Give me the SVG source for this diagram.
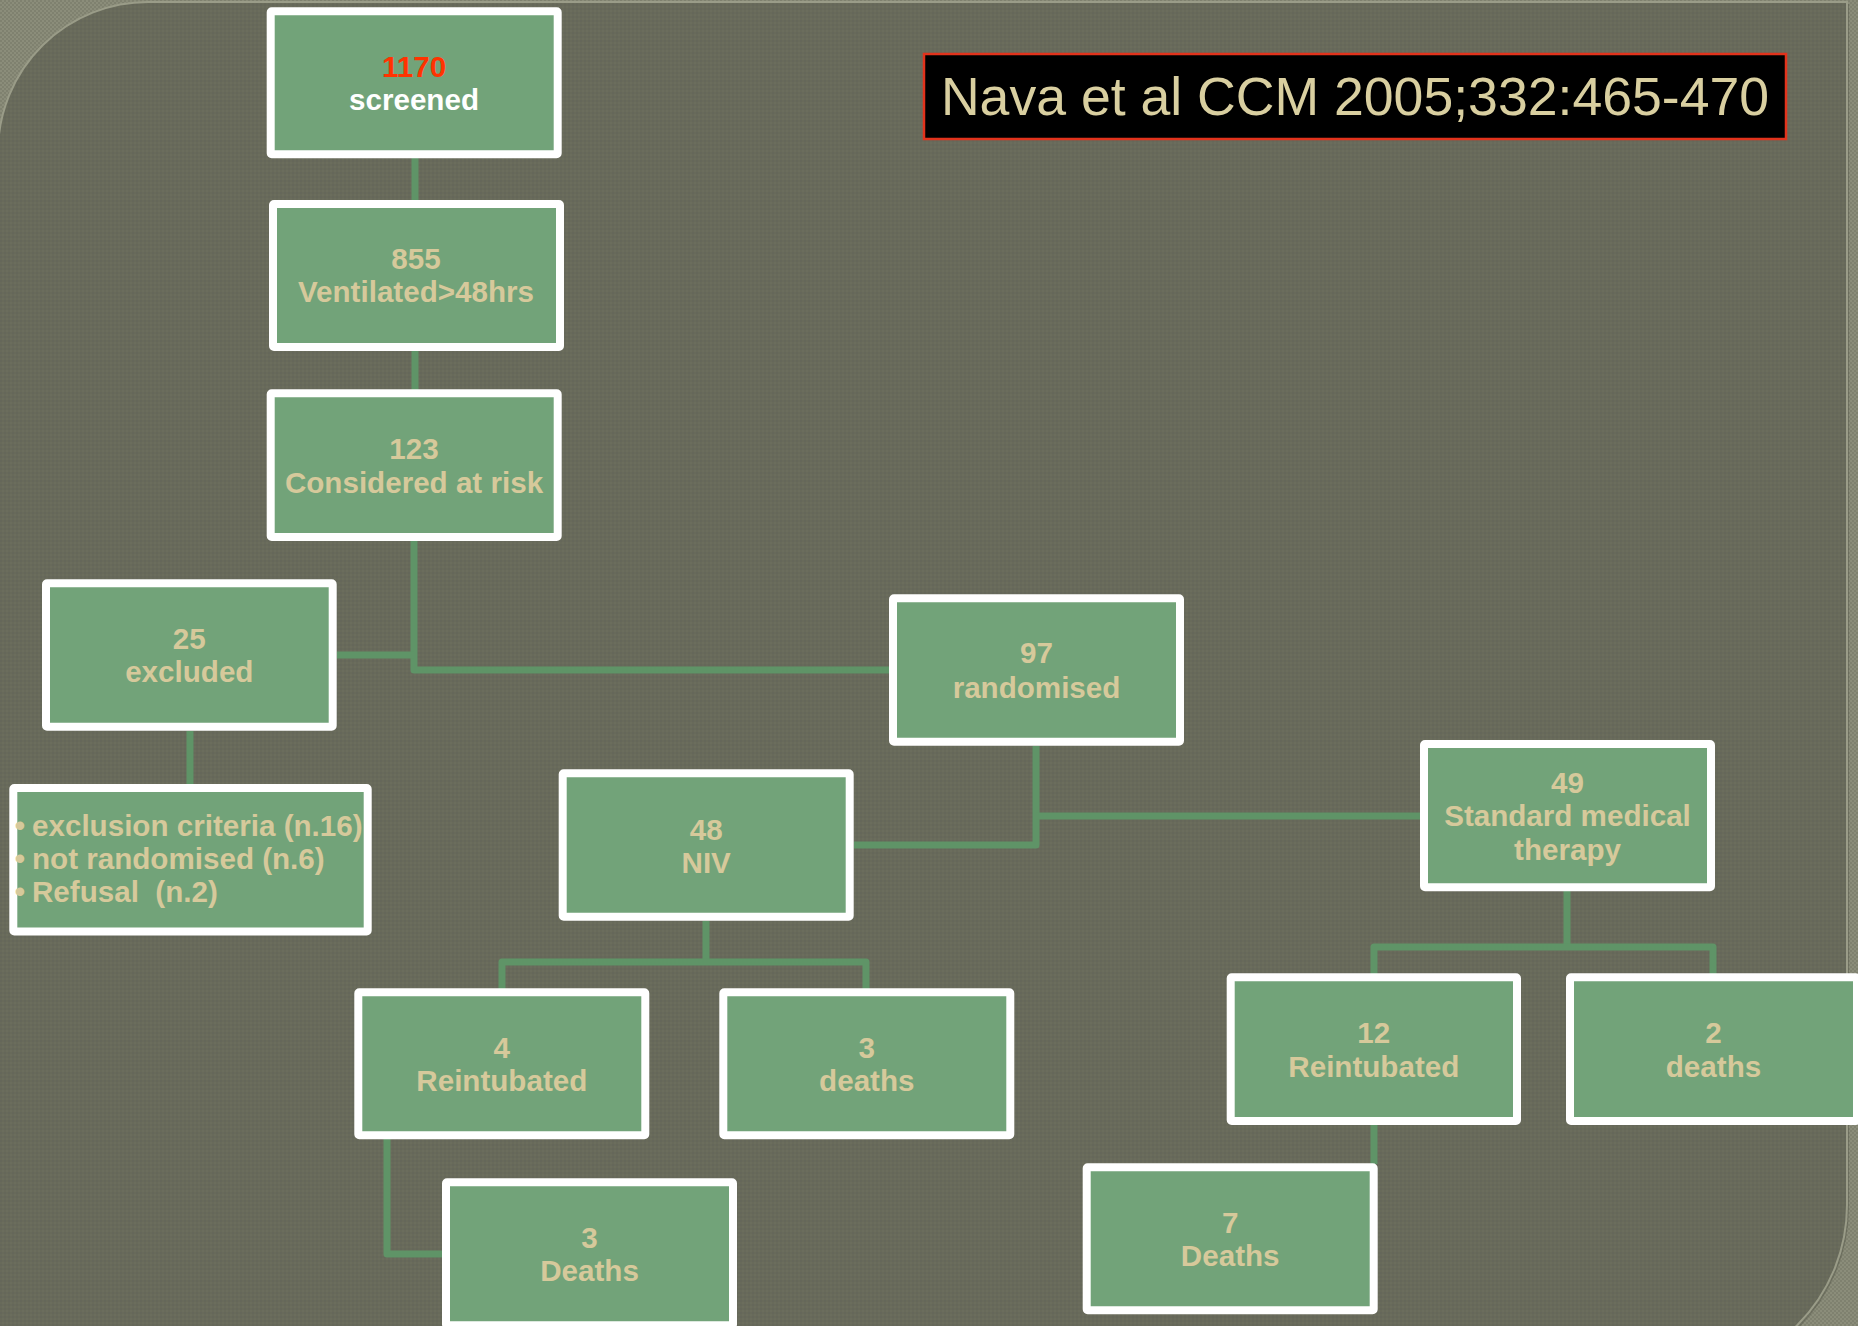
<svg xmlns="http://www.w3.org/2000/svg" width="1858" height="1326" viewBox="0 0 1858 1326">
<style>
  .box rect { fill: #72a379; stroke: #ffffff; stroke-width: 8; stroke-linejoin: round; }
  .box text { font-family: "Liberation Sans", Arial, sans-serif; font-weight: bold; font-size: 29.6px; fill: #d6c99b; text-anchor: middle; }
  .box text.left { text-anchor: start; }
  .box text.bul { text-anchor: middle; }
  #connectors path { fill: none; stroke: #5f9467; stroke-width: 7; stroke-linejoin: round; stroke-linecap: butt; }
</style>
<defs>
  <pattern id="frameTex" width="4" height="4" patternUnits="userSpaceOnUse">
    <rect width="4" height="4" fill="#8b8d7a"/>
    <rect width="2" height="2" fill="#7f816f"/>
    <rect x="2" y="2" width="2" height="2" fill="#7f816f"/>
  </pattern>
  <pattern id="panelTex" width="4" height="4" patternUnits="userSpaceOnUse">
    <rect width="4" height="4" fill="#686a5a"/>
    <rect width="2" height="2" fill="#65675a"/>
    <rect x="2" y="2" width="2" height="2" fill="#6b6d5d"/>
  </pattern>
</defs>

<!-- background -->
<rect x="0" y="0" width="1858" height="1326" fill="url(#frameTex)"/>
<path d="M -2 150 A 150 150 0 0 1 148 2 H 1847 V 1205 A 170 170 0 0 1 1677 1375 H -2 Z" fill="#55574a" transform="translate(2,2)" opacity="0.5"/>
<path d="M -2 150 A 150 150 0 0 1 148 2 H 1847 V 1205 A 170 170 0 0 1 1677 1375 H -2 Z" fill="url(#panelTex)" stroke="#9a9c88" stroke-width="2"/>

<!-- title -->
<g id="title">
  <rect x="924" y="54" width="862" height="85" fill="#000000" stroke="#e2331c" stroke-width="2.5"/>
  <text x="1355" y="115" font-family="'Liberation Sans', Arial, sans-serif" font-size="53.6" fill="#d9cfa0" text-anchor="middle">Nava et al CCM 2005;332:465-470</text>
</g>

<!-- connectors -->
<g id="connectors">
  <path d="M415 158 V201"/>
  <path d="M415 351 V390"/>
  <path d="M414 541 V670 H890"/>
  <path d="M337 655 H414"/>
  <path d="M190 731 V785"/>
  <path d="M1036 746 V845 H854"/>
  <path d="M1036 816 H1421"/>
  <path d="M706 921 V962"/>
  <path d="M502 989 V962 H866 V989"/>
  <path d="M387 1139 V1254 H443"/>
  <path d="M1567 891 V947"/>
  <path d="M1374 974 V947 H1713 V974"/>
  <path d="M1374 1125 V1164"/>
</g>

<!-- nodes -->
<g id="n-screened" class="box">
  <rect x="270.7" y="11.3" width="287" height="143" rx="1"/>
  <text x="414" y="77" style="fill:#ff3300">1170</text>
  <text x="414" y="109.5" style="fill:#ffffff">screened</text>
</g>
<g id="n-ventilated" class="box">
  <rect x="273" y="204" width="287" height="143" rx="1"/>
  <text x="416" y="268.5">855</text>
  <text x="416" y="302">Ventilated&gt;48hrs</text>
</g>
<g id="n-atrisk" class="box">
  <rect x="270.7" y="393.3" width="287" height="143.7" rx="1"/>
  <text x="414" y="459">123</text>
  <text x="414" y="493">Considered at risk</text>
</g>
<g id="n-excluded" class="box">
  <rect x="46" y="583.3" width="286.7" height="143.4" rx="1"/>
  <text x="189.3" y="648.5">25</text>
  <text x="189.3" y="682">excluded</text>
</g>
<g id="n-reasons" class="box">
  <rect x="13.3" y="788" width="354.4" height="143.5" rx="1"/>
  <text class="bul" x="20" y="835.5">•</text>
  <text class="left" x="32" y="835.5">exclusion criteria (n.16)</text>
  <text class="bul" x="20" y="868.5">•</text>
  <text class="left" x="32" y="868.5">not randomised (n.6)</text>
  <text class="bul" x="20" y="902">•</text>
  <text class="left" x="32" y="902" style="white-space:pre">Refusal  (n.2)</text>
</g>
<g id="n-randomised" class="box">
  <rect x="893" y="598.3" width="287" height="143.4" rx="1"/>
  <text x="1036.5" y="663">97</text>
  <text x="1036.5" y="697.5">randomised</text>
</g>
<g id="n-niv" class="box">
  <rect x="562.7" y="773.3" width="287" height="143.4" rx="1"/>
  <text x="706.2" y="839.5">48</text>
  <text x="706.2" y="872.5">NIV</text>
</g>
<g id="n-smt" class="box">
  <rect x="1424" y="744" width="287" height="143.3" rx="1"/>
  <text x="1567.5" y="793">49</text>
  <text x="1567.5" y="826">Standard medical</text>
  <text x="1567.5" y="859.5">therapy</text>
</g>
<g id="n-niv-reint" class="box">
  <rect x="358.3" y="992.3" width="287" height="143" rx="1"/>
  <text x="501.8" y="1057.5">4</text>
  <text x="501.8" y="1091">Reintubated</text>
</g>
<g id="n-niv-deaths" class="box">
  <rect x="723.3" y="992.3" width="287" height="143" rx="1"/>
  <text x="866.8" y="1057.5">3</text>
  <text x="866.8" y="1091">deaths</text>
</g>
<g id="n-niv-reint-deaths" class="box">
  <rect x="446" y="1182.3" width="287" height="143" rx="1"/>
  <text x="589.5" y="1248">3</text>
  <text x="589.5" y="1281">Deaths</text>
</g>
<g id="n-smt-reint" class="box">
  <rect x="1230.7" y="977.3" width="286.3" height="143.7" rx="1"/>
  <text x="1373.8" y="1043">12</text>
  <text x="1373.8" y="1077">Reintubated</text>
</g>
<g id="n-smt-deaths" class="box">
  <rect x="1570" y="977.3" width="287" height="143.7" rx="1"/>
  <text x="1713.5" y="1043">2</text>
  <text x="1713.5" y="1077">deaths</text>
</g>
<g id="n-smt-reint-deaths" class="box">
  <rect x="1086.7" y="1167.3" width="287" height="143" rx="1"/>
  <text x="1230.2" y="1232.5">7</text>
  <text x="1230.2" y="1266">Deaths</text>
</g>
</svg>
